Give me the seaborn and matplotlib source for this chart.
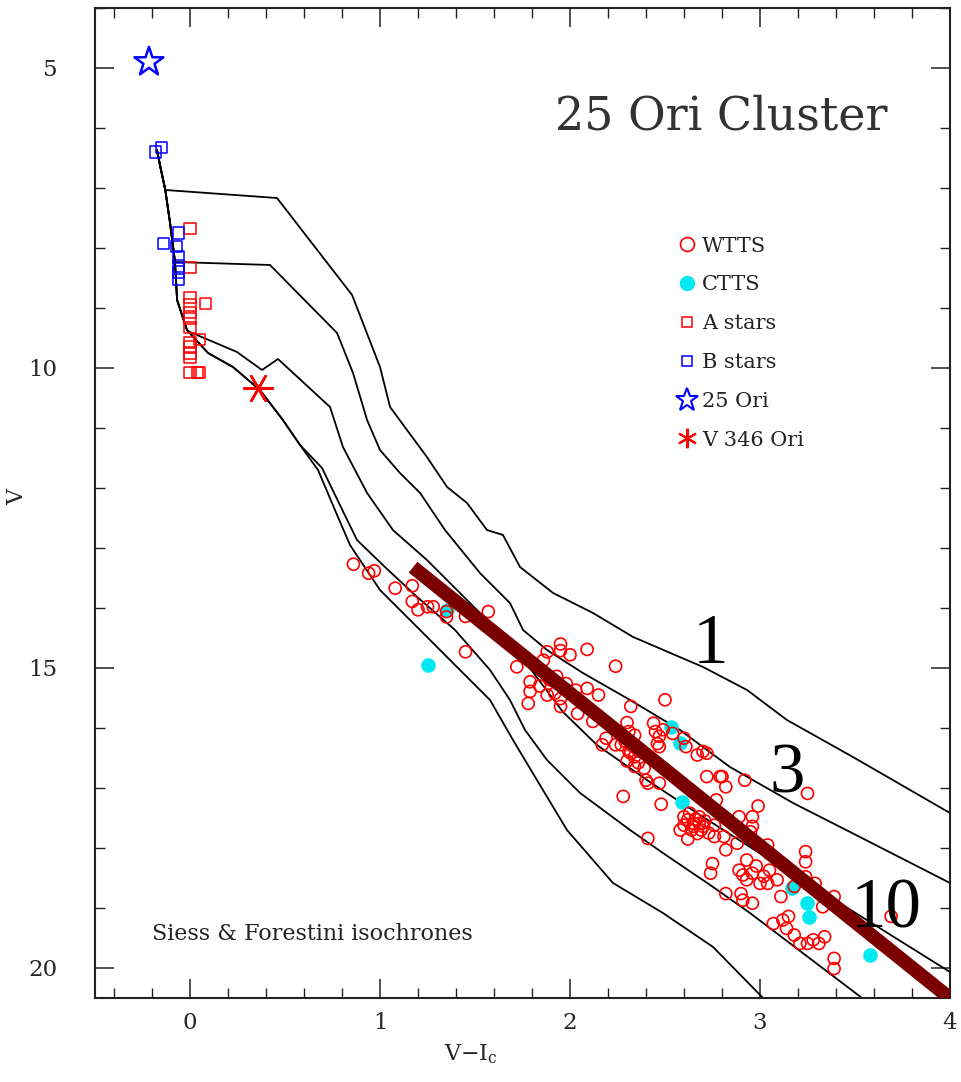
import numpy as np
import pandas as pd
import matplotlib
matplotlib.use("Agg")
import matplotlib.pyplot as plt
import seaborn as sns
from matplotlib.lines import Line2D
from matplotlib.ticker import MultipleLocator

# ---------------- data ----------------
# shared upper trunk of the isochrones (V-Ic, V)
trunk_x = [-0.174, -0.158, -0.13, -0.105, -0.079, -0.068, -0.016]
trunk_y = [6.367, 6.617, 7.033, 7.583, 8.233, 8.867, 9.367]

iso1_x = [0.458, 0.853, 1.0, 1.053, 1.142, 1.247, 1.353, 1.458, 1.563, 1.647, 1.737, 1.911,
          2.121, 2.332, 2.7, 2.932, 3.142, 3.489, 4.0]
iso1_y = [7.167, 8.783, 9.983, 10.65, 11.033, 11.483, 11.983, 12.25, 12.7, 12.783, 13.317, 13.75,
          14.083, 14.483, 14.983, 15.367, 15.867, 16.483, 17.417]

iso2_x = [0.421, 0.774, 0.858, 0.932, 1.0, 1.105, 1.211, 1.342, 1.526, 1.684, 1.753, 1.879,
          2.068, 2.316, 2.579, 2.842, 3.174, 3.526, 4.0]
iso2_y = [8.283, 9.417, 10.083, 10.867, 11.367, 11.75, 12.083, 12.7, 13.417, 13.917, 14.367, 14.7,
          15.083, 15.533, 16.033, 16.65, 17.25, 17.817, 18.583]

iso3_x = [0.0, 0.247, 0.379, 0.463, 0.737, 0.805, 0.932, 1.068, 1.247, 1.421, 1.563, 1.711,
          1.816, 1.963, 2.142, 2.405, 2.668, 2.947, 4.0]
iso3_y = [9.4, 9.733, 10.033, 9.85, 10.65, 11.317, 12.083, 12.7, 13.2, 13.75, 14.2, 14.667,
          15.117, 15.733, 16.283, 16.867, 17.417, 17.983, 20.067]

iso45_x = [0.095, 0.226, 0.368, 0.489, 0.579]
iso45_y = [9.75, 9.983, 10.367, 10.867, 11.283]

iso4_x = [0.695, 0.789, 0.879, 1.026, 1.184, 1.395, 1.579, 1.684, 1.763, 1.879, 2.053, 2.316,
          2.489, 2.753, 2.947, 3.537]
iso4_y = [11.667, 12.283, 12.867, 13.317, 13.783, 14.367, 15.033, 15.533, 16.033, 16.533, 17.083, 17.7,
          18.083, 18.65, 19.083, 20.5]

iso5_x = [0.674, 0.763, 0.842, 1.0, 1.211, 1.421, 1.579, 1.7, 1.826, 1.984, 2.226, 2.489, 2.753, 3.016]
iso5_y = [11.7, 12.367, 12.95, 13.7, 14.367, 15.033, 15.533, 16.2, 16.867, 17.7, 18.583, 19.083, 19.65, 20.5]

wtts_x = [0.86, 0.94, 0.97, 1.08, 1.17, 1.17, 1.20, 1.25, 1.28, 1.35, 1.35, 1.45, 1.57, 1.45, 1.72,
          1.88, 1.95, 1.95, 2.00, 2.09, 2.24, 1.79, 1.79, 1.78, 1.86, 1.93, 1.92, 1.95, 1.95, 1.98,
          2.03, 2.04, 2.09, 2.15, 2.12, 2.32, 2.30, 2.34, 2.19, 2.17, 2.24, 2.32, 2.34, 2.39, 2.44,
          2.45, 2.41, 2.28,
          2.41, 2.48, 2.50, 2.58, 2.60, 2.62, 2.65, 2.67, 2.68, 2.70, 2.72, 2.74, 2.75, 2.77, 2.79,
          2.80, 2.82, 2.82, 2.82, 2.88, 2.89, 2.89, 2.90, 2.91, 2.92, 2.93, 2.49, 2.46, 2.47, 2.54,
          2.60, 2.61, 2.67, 2.70, 2.72,
          2.27, 2.31, 2.31, 2.34, 2.40, 2.47, 2.47, 3.25, 2.99, 2.96, 2.65, 2.68, 2.76, 2.76, 2.81,
          2.95, 2.96, 3.04, 3.05, 2.93, 2.96, 3.00, 3.05, 3.04, 3.09, 2.96, 3.11, 3.18, 3.24, 3.24,
          3.24, 3.29, 3.39, 3.33, 3.07, 3.12, 3.15, 3.14, 3.18, 3.21, 3.25, 3.28, 3.31, 3.34, 3.39,
          3.39, 3.69,
          2.60, 2.63, 2.64, 2.66, 2.69, 2.71, 2.73, 2.62, 2.27, 2.29, 2.33, 2.36, 2.30, 2.36, 1.84,
          1.88, 1.90, 2.91, 2.98, 3.02]
wtts_y = [13.27, 13.42, 13.38, 13.67, 13.63, 13.89, 14.03, 13.98, 13.98, 14.06, 14.15, 14.14, 14.06, 14.73, 14.98,
          14.73, 14.60, 14.71, 14.78, 14.69, 14.97, 15.23, 15.39, 15.59, 14.87, 15.14, 15.42, 15.51, 15.64, 15.26,
          15.37, 15.76, 15.34, 15.45, 15.89, 15.64, 15.91, 16.12, 16.17, 16.28, 16.28, 16.42, 16.64, 16.67, 15.92,
          16.06, 16.92, 17.14,
          17.84, 17.27, 15.53, 17.70, 17.48, 17.53, 17.59, 17.76, 17.48, 17.64, 16.81, 18.42, 18.26, 17.20, 16.81,
          16.81, 16.98, 18.03, 18.76, 17.92, 17.48, 18.37, 18.76, 18.87, 16.87, 18.20, 16.03, 16.26, 16.31, 16.09,
          16.17, 16.31, 16.45, 16.39, 16.42,
          16.28, 16.06, 16.39, 16.48, 16.87, 16.92, 16.14, 17.09, 17.30, 17.48, 17.64, 17.59, 17.62, 17.81, 17.81,
          17.73, 17.64, 17.95, 18.09, 18.53, 18.42, 18.59, 18.37, 18.59, 18.53, 18.92, 18.81, 18.64, 18.06, 18.23,
          18.48, 18.59, 18.81, 18.98, 19.26, 19.20, 19.14, 19.34, 19.45, 19.59, 19.59, 19.53, 19.59, 19.48, 19.84,
          20.01, 19.14,
          17.62, 17.42, 17.70, 17.52, 17.70, 17.55, 17.75, 17.85, 16.12, 16.22, 16.30, 16.38, 16.55, 16.58, 15.30,
          15.45, 15.20, 18.45, 18.30, 18.47]

ctts_x = [1.25, 1.35, 2.53, 2.58, 2.59, 3.17, 3.25, 3.26, 3.58]
ctts_y = [14.95, 14.03, 15.98, 16.25, 17.23, 18.67, 18.92, 19.15, 19.78]

astar_x = [0.00, 0.00, 0.00, 0.08, 0.00, 0.00, 0.00, 0.00, 0.05, 0.00, 0.00, 0.00, 0.00, 0.00, 0.04, 0.05]
astar_y = [7.68, 8.32, 8.83, 8.93, 8.95, 9.07, 9.18, 9.32, 9.52, 9.57, 9.65, 9.75, 9.83, 10.08, 10.08, 10.08]

bstar_x = [-0.15, -0.18, -0.14, -0.06, -0.07, -0.06, -0.06, -0.06, -0.06]
bstar_y = [6.32, 6.40, 7.92, 7.75, 7.98, 8.15, 8.30, 8.40, 8.52]

ori25_x = [-0.216]
ori25_y = [4.90]
v346_x = [0.36]
v346_y = [10.33]

trend_x = [1.174, 4.03]
trend_y = [13.32, 20.58]

age_labels = ["1", "3", "10"]
age_label_x = [2.737, 3.142, 3.663]
age_label_y = [14.92, 17.07, 19.33]

legend_labels = ["WTTS", "CTTS", "A stars", "B stars", "25 Ori", "V 346 Ori"]

# ---------------- build isochrone table ----------------
n1, n2, n3 = 3, 5, 7
iso_parts = {
    "1": (trunk_x[:n1] + iso1_x, trunk_y[:n1] + iso1_y),
    "2": (trunk_x[:n2] + iso2_x, trunk_y[:n2] + iso2_y),
    "3": (trunk_x[:n3] + iso3_x, trunk_y[:n3] + iso3_y),
    "4": (trunk_x + iso45_x + iso4_x, trunk_y + iso45_y + iso4_y),
    "5": (trunk_x + iso45_x + iso5_x, trunk_y + iso45_y + iso5_y),
}
frames = []
for k, (xs, ys) in iso_parts.items():
    frames.append(pd.DataFrame({"x": xs, "y": ys, "iso": k, "order": range(len(xs))}))
iso_df = pd.concat(frames, ignore_index=True)

# ---------------- style ----------------
sns.set_theme(style="ticks")
plt.rcParams["font.family"] = ["DejaVu Serif"]
plt.rcParams["mathtext.fontset"] = "dejavuserif"

fig = plt.figure(figsize=(9.62, 10.82), dpi=100)
ax = fig.add_axes([95 / 962, 1 - 998 / 1082, 855 / 962, 990 / 1082])

sns.lineplot(data=iso_df, x="x", y="y", units="iso", estimator=None, sort=False,
             color="black", lw=1.3, ax=ax, legend=False)

sns.scatterplot(x=ctts_x, y=ctts_y, marker="o", s=110, color="#00e8f0",
                edgecolor="#00e8f0", linewidth=0, ax=ax, zorder=3)
sns.scatterplot(x=wtts_x, y=wtts_y, marker="o", s=75, color="red",
                facecolor="none", edgecolor="red", linewidth=1.2, ax=ax, zorder=4)
sns.scatterplot(x=astar_x, y=astar_y, marker="s", s=65, color="red",
                facecolor="none", edgecolor="red", linewidth=1.1, ax=ax, zorder=4)
sns.scatterplot(x=bstar_x, y=bstar_y, marker="s", s=65, color="blue",
                facecolor="none", edgecolor="blue", linewidth=1.1, ax=ax, zorder=4)
sns.scatterplot(x=ori25_x, y=ori25_y, marker="*", s=480, color="blue",
                facecolor="none", edgecolor="blue", linewidth=1.8, ax=ax, zorder=4)
sns.scatterplot(x=v346_x, y=v346_y, marker=(6, 2, 90), s=420, color="red",
                edgecolor="red", linewidth=1.8, ax=ax, zorder=4)

sns.lineplot(x=trend_x, y=trend_y, color="#7a0000", lw=10, sort=False, ax=ax,
             solid_capstyle="butt", zorder=6)

for lab, lx, ly in zip(age_labels, age_label_x, age_label_y):
    ax.text(lx, ly, lab, fontsize=51, family=["Liberation Serif", "DejaVu Serif"],
            ha="center", va="baseline", color="black", zorder=7)

ax.text(1.92, 6.03, "25 Ori Cluster", fontsize=33, ha="left", va="baseline", color="#333333")
ax.text(-0.20, 19.53, "Siess & Forestini isochrones", fontsize=16, ha="left",
        va="baseline", color="#222222")

handles = [
    Line2D([], [], ls="none", marker="o", mfc="none", mec="red", ms=10, mew=1.2),
    Line2D([], [], ls="none", marker="o", mfc="#00e8f0", mec="#00e8f0", ms=10),
    Line2D([], [], ls="none", marker="s", mfc="none", mec="red", ms=7, mew=1.1),
    Line2D([], [], ls="none", marker="s", mfc="none", mec="blue", ms=7, mew=1.1),
    Line2D([], [], ls="none", marker="*", mfc="none", mec="blue", ms=17, mew=1.5),
    Line2D([], [], ls="none", marker=(6, 2, 0), color="red", mec="red", ms=14, mew=1.5),
]
ax.legend(handles, legend_labels, loc="upper left", bbox_to_anchor=(0.683, 0.769),
          frameon=False, fontsize=15, handlelength=0.8, handletextpad=0.3,
          labelspacing=0.95, borderpad=0, borderaxespad=0, labelcolor="#222222")

ax.set_xlim(-0.5, 4.0)
ax.set_ylim(20.5, 4.0)
ax.xaxis.set_major_locator(MultipleLocator(1))
ax.xaxis.set_minor_locator(MultipleLocator(0.2))
ax.yaxis.set_major_locator(MultipleLocator(5))
ax.yaxis.set_minor_locator(MultipleLocator(1))
ax.tick_params(which="both", direction="in", top=True, right=True, color="#222222")
ax.tick_params(which="major", length=13.5, width=1.1, labelsize=16.5)
ax.tick_params(which="minor", length=7, width=1.0)
ax.tick_params(axis="x", which="major", pad=10)
ax.tick_params(axis="y", which="major", pad=27)
for sp in ax.spines.values():
    sp.set_linewidth(1.5)
    sp.set_color("#222222")

ax.set_xlabel("V\u2212I$_{\\mathrm{c}}$", fontsize=16)
ax.xaxis.set_label_coords(0.44, -0.045)
ax.set_ylabel("V", fontsize=16)
ax.yaxis.set_label_coords(-0.078, 0.506)

fig.savefig("out.png", dpi=100)
